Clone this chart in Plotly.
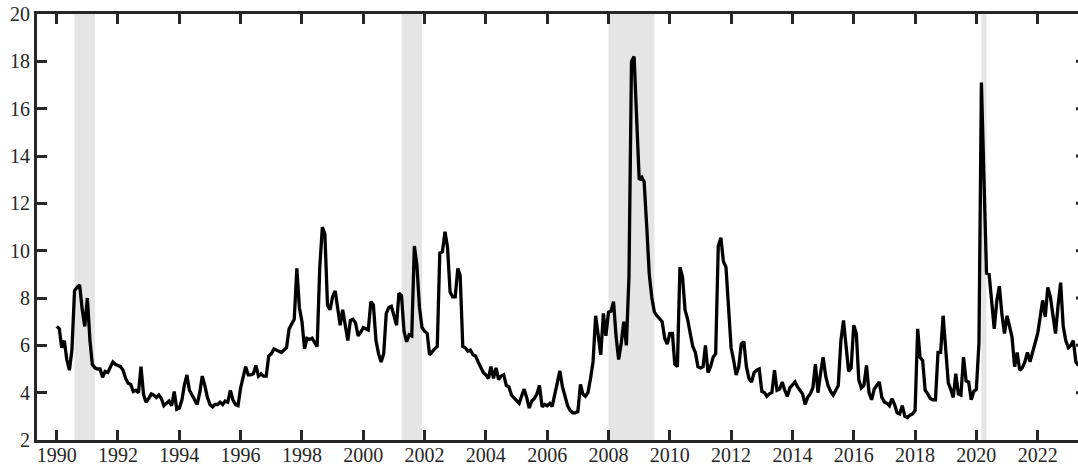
import pandas as pd
import plotly.graph_objects as go

# Monthly volatility index, one list per decade (first value = Jan of the decade)
vol_1990s = [
    6.8, 6.7, 5.9, 6.2, 5.4, 4.95, 5.8, 8.3, 8.45, 8.55, 7.5, 6.8,      # 1990
    8.0, 6.2, 5.2, 5.05, 5.0, 5.0, 4.65, 4.9, 4.85, 5.1, 5.3, 5.2,      # 1991
    5.15, 5.1, 4.95, 4.6, 4.4, 4.35, 4.05, 4.1, 4.0, 5.1, 3.9, 3.6,     # 1992
    3.75, 3.95, 3.9, 3.8, 3.9, 3.75, 3.45, 3.55, 3.65, 3.45, 4.05, 3.3, # 1993
    3.35, 3.7, 4.3, 4.75, 4.1, 3.9, 3.7, 3.5, 4.0, 4.7, 4.3, 3.8,       # 1994
    3.5, 3.4, 3.5, 3.5, 3.6, 3.5, 3.65, 3.6, 4.1, 3.7, 3.5, 3.45,       # 1995
    4.2, 4.7, 5.1, 4.75, 4.75, 4.8, 5.15, 4.7, 4.8, 4.7, 4.7, 5.55,     # 1996
    5.65, 5.85, 5.8, 5.75, 5.7, 5.8, 5.9, 6.7, 6.9, 7.1, 9.25, 7.6,     # 1997
    7.0, 5.85, 6.3, 6.25, 6.3, 6.1, 5.95, 9.3, 11.0, 10.7, 7.7, 7.5,    # 1998
    8.05, 8.3, 7.5, 6.85, 7.5, 6.8, 6.2, 7.05, 7.1, 6.95, 6.4, 6.55,    # 1999
]
vol_2000s = [
    6.75, 6.7, 6.65, 7.85, 7.7, 6.2, 5.65, 5.3, 5.65, 7.35, 7.6, 7.65,  # 2000
    7.3, 6.85, 8.2, 8.1, 6.6, 6.15, 6.45, 6.4, 10.2, 9.4, 7.6, 6.75,    # 2001
    6.6, 6.5, 5.6, 5.75, 5.85, 5.95, 9.9, 9.95, 10.8, 10.15, 8.25, 8.05, # 2002
    8.05, 9.25, 8.95, 5.95, 5.9, 5.75, 5.8, 5.6, 5.55, 5.3, 5.1, 4.85,  # 2003
    4.75, 4.6, 5.1, 4.6, 5.05, 4.55, 4.7, 4.75, 4.3, 4.25, 3.9, 3.8,    # 2004
    3.7, 3.55, 3.85, 4.15, 3.8, 3.35, 3.65, 3.75, 3.95, 4.3, 3.4, 3.5,  # 2005
    3.45, 3.55, 3.42, 3.9, 4.5, 4.92, 4.25, 3.8, 3.45, 3.25, 3.15, 3.15, # 2006
    3.2, 4.35, 3.95, 3.85, 4.0, 4.6, 5.3, 7.25, 6.4, 5.6, 7.35, 6.4,    # 2007
    7.4, 7.45, 7.85, 6.35, 5.4, 6.1, 7.0, 6.0, 8.9, 18.0, 18.2, 15.2,   # 2008
    13.0, 13.1, 12.9, 11.0, 9.0, 8.0, 7.4, 7.25, 7.1, 7.0, 6.3, 6.05,   # 2009
]
vol_2010s = [
    6.5, 6.5, 5.2, 5.1, 9.3, 8.9, 7.5, 7.1, 6.5, 5.95, 5.7, 5.1,        # 2010
    5.05, 5.1, 6.0, 4.85, 5.1, 5.5, 5.65, 10.2, 10.55, 9.55, 9.3, 7.6,  # 2011
    5.9, 5.35, 4.75, 5.1, 6.05, 6.15, 5.1, 4.6, 4.45, 4.85, 4.95, 5.0,  # 2012
    4.05, 4.0, 3.85, 3.95, 4.0, 4.95, 4.1, 4.15, 4.45, 4.1, 3.85, 4.2,  # 2013
    4.35, 4.45, 4.25, 4.1, 3.95, 3.5, 3.8, 3.95, 4.2, 5.2, 4.0, 4.8,    # 2014
    5.5, 4.7, 4.3, 4.05, 3.9, 4.1, 4.3, 6.2, 7.05, 6.0, 4.9, 5.05,      # 2015
    6.85, 6.5, 4.55, 4.2, 4.3, 5.15, 4.0, 3.7, 4.15, 4.3, 4.45, 3.8,    # 2016
    3.6, 3.55, 3.45, 3.75, 3.5, 3.15, 3.1, 3.45, 3.0, 2.95, 3.05, 3.1,  # 2017
    3.25, 6.7, 5.5, 5.35, 4.1, 3.95, 3.75, 3.7, 3.7, 5.7, 5.7, 7.25,    # 2018
    5.9, 4.4, 4.15, 3.8, 4.8, 3.95, 3.9, 5.5, 4.5, 4.45, 3.7, 4.05,     # 2019
]
vol_2020s = [
    4.15, 6.1, 17.1, 12.5, 9.05, 9.0, 7.9, 6.7, 7.9, 8.5, 7.3, 6.5,     # 2020
    7.25, 6.8, 6.35, 5.1, 5.7, 4.95, 5.05, 5.3, 5.7, 5.3, 5.65, 6.1,    # 2021
    6.5, 7.35, 7.9, 7.2, 8.45, 8.05, 7.15, 6.5, 7.7, 8.65, 6.8, 6.2,    # 2022
    5.9, 6.0, 6.2, 5.3, 5.15,                                           # 2023
]

# Recession periods (shaded)
recession_starts = ["1990-08-01", "2001-04-01", "2008-01-01", "2020-03-01"]
recession_ends = ["1991-04-01", "2001-12-01", "2009-07-01", "2020-05-01"]

y_ticks = list(range(2, 21, 2))
x_tick_years = list(range(1990, 2023, 2))

values = vol_1990s + vol_2000s + vol_2010s + vol_2020s
dates = pd.date_range("1990-01-01", periods=len(values), freq="MS")

AXIS = "#262626"
FONT = dict(family="Liberation Serif, Times New Roman, serif", size=20, color=AXIS)

fig = go.Figure()
fig.add_trace(go.Scatter(
    x=dates, y=values, mode="lines",
    line=dict(color="black", width=3.3),
    showlegend=False, hoverinfo="skip",
))

shapes = []
for s, e in zip(recession_starts, recession_ends):
    shapes.append(dict(
        type="rect", xref="x", yref="paper", x0=s, x1=e, y0=0, y1=1,
        fillcolor="#e5e5e5", line=dict(width=0), layer="below",
    ))

# short inward tick stubs of the right-hand frame, cut by the page edge
W, H = 1078, 466
ML, MR, MT, MB = 37, 0, 14, 26
plot_w = W - ML - MR
for v in y_ticks[1:-1]:
    shapes.append(dict(
        type="line", xref="paper", yref="y",
        x0=(1076 - ML) / plot_w, x1=1.0, y0=v, y1=v,
        line=dict(color=AXIS, width=3),
    ))

axis_common = dict(
    showline=True, linewidth=3, linecolor=AXIS,
    ticks="inside", ticklen=10, tickwidth=3, tickcolor=AXIS,
    showgrid=False, zeroline=False, tickfont=FONT, automargin=False,
)

fig.update_layout(
    width=W, height=H,
    margin=dict(l=ML, r=MR, t=MT, b=MB, pad=0),
    paper_bgcolor="white", plot_bgcolor="white",
    shapes=shapes,
    xaxis=dict(
        type="date",
        range=["1989-05-11", "2023-04-26"],
        tickvals=[f"{y}-01-01" for y in x_tick_years],
        ticktext=[str(y) for y in x_tick_years],
        mirror="ticks",
        ticklabelstandoff=-5,
        **axis_common,
    ),
    yaxis=dict(
        range=[2, 20],
        tickvals=y_ticks,
        ticktext=[str(v) for v in y_ticks],
        **axis_common,
    ),
)

fig.write_html("out.html", config={"displayModeBar": False})
